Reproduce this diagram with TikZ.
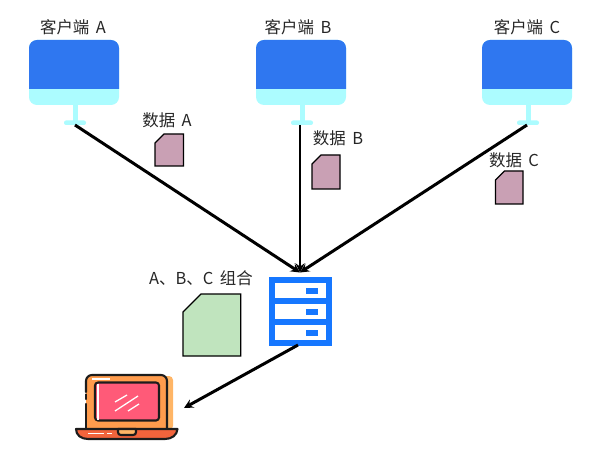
\documentclass[tikz,border=0pt]{standalone}
\usepackage{fontspec}
\setmainfont{Noto Sans CJK SC}
\usetikzlibrary{arrows}
\definecolor{screenblue}{HTML}{2F77F0}
\definecolor{standcyan}{HTML}{ACFCFF}
\definecolor{docpink}{HTML}{C9A0B4}
\definecolor{docgreen}{HTML}{C0E4BE}
\definecolor{serverblue}{HTML}{1677FF}
\definecolor{lapback}{HTML}{FFB566}
\definecolor{lapbody}{HTML}{FF9C4D}
\definecolor{lapscreen}{HTML}{FF5A78}
\definecolor{lapbase}{HTML}{F2643C}
\definecolor{lapline}{HTML}{1C1C1C}
\tikzset{
	label text/.style={font=\fontsize{16.5}{20}\selectfont, text=black!85, inner sep=0pt,
		execute at begin node={\spaceskip=6.5bp\relax}},
	link/.style={-stealth, line width=3pt, black},
	lap line/.style={lapline, line width=2.1pt, line join=round, line cap=round},
	doc/.style={draw=black, line width=1.1pt}
}
\begin{document}
\begin{tikzpicture}[x=1bp,y=-1bp]
		\useasboundingbox (0,0) rectangle (595,474);
		%% The Clients
		\foreach \name/\lx/\tx/\cx in {A/29/73/75, B/256/298/300, C/482/527/527} {
			\fill[standcyan, rounded corners=8] (\lx,40) rectangle ++(90,65);
			\fill[screenblue] (\lx,89) [rounded corners=8] -- (\lx,40)
				-- ++(90,0) [sharp corners] -- ++(0,49) -- cycle;
			\fill[standcyan] (\lx+44,105) rectangle ++(4.5,17);
			\fill[standcyan, rounded corners=2] (\lx+35,120.5) rectangle ++(22,4.5);
			\node[label text] (label\name) at (\tx,27) {客户端 \name};
			\coordinate (client\name) at (\cx,125);
		}
		%% The Data
		\foreach \name/\lx/\ty/\w/\h/\tx/\tty in {A/155/134/28.5/32/167/120, B/312/155/28/34/338/138, C/495.5/171/27.5/33/514/160} {
			\draw[doc, fill=docpink] (\lx,\ty+9) -- (\lx+9,\ty) -- (\lx+\w,\ty)
				-- (\lx+\w,\ty+\h) -- (\lx,\ty+\h) -- cycle;
			\node[label text] (data\name) at (\tx,\tty) {数据 \name};
		}
		\draw[doc, fill=docgreen] (183,312) -- (201,294) -- (240.7,294)
				-- (240.7,356) -- (183,356) -- cycle;
		\node[label text] (combined) at (201,278) {A、B、C 组合};
		%% The Server
		\node[fill=serverblue, minimum width=62.5bp, minimum height=68.5bp, inner sep=0pt] (server) at (300.5,311.5) {};
		\foreach \ty in {283,304,325} {
			\fill[white] (275,\ty) rectangle ++(51,15);
			\fill[serverblue] (306,\ty+5) rectangle ++(11.5,5.5);
		}
		%% The Laptop
		\fill[lapback, rounded corners=4] (95,376) rectangle (173,430);
		\fill[lapbody, rounded corners=4] (86,375) rectangle (167,430);
		\draw[lap line] (86,392) -- (86,381) arc (180:270:6) -- (161,375) arc (270:360:6) -- (167,429);
		\draw[lap line] (86,394.5) -- (86,399);
		\draw[lap line] (86,404) -- (86,429);
		\fill[white] (92,378) rectangle (110,379.5);
		\draw[lap line, fill=lapscreen, rounded corners=3] (95,382.5) rectangle (159,420.5);
		\fill[white] (96.5,384) rectangle (99,419.5);
		\draw[white, line width=1.3pt] (115,402) -- (127,395)
			(115,411) -- (138,396) (128,411) -- (139,404);
		\draw[lap line, fill=lapbase] (76,429) -- (177.5,429) .. controls (177,435) and (172,439) .. (165,439)
			-- (88,439) .. controls (81,439) and (76,435) .. (76,429) -- cycle;
		\draw[lap line, fill=lapback] (118,429) -- (136,429) -- (136,432) .. controls (136,434) and (135,435) .. (133,435)
			-- (121,435) .. controls (119,435) and (118,434) .. (118,432) -- cycle;
		\draw[white, line width=1.2pt] (88,433.5) -- (104,433.5) (107,433.5) -- (112,433.5);
		\coordinate (laptop) at (184,408);
		%% The Links
		\coordinate (serverTop) at (300,272.5);
		\coordinate (serverBottom) at (298,345);
		\draw[link] (clientA) -- (serverTop);
		\draw[link] (clientB) -- (serverTop);
		\draw[link] (clientC) -- (serverTop);
		\draw[link] (serverBottom) -- (laptop);
	\end{tikzpicture}
\end{document}
